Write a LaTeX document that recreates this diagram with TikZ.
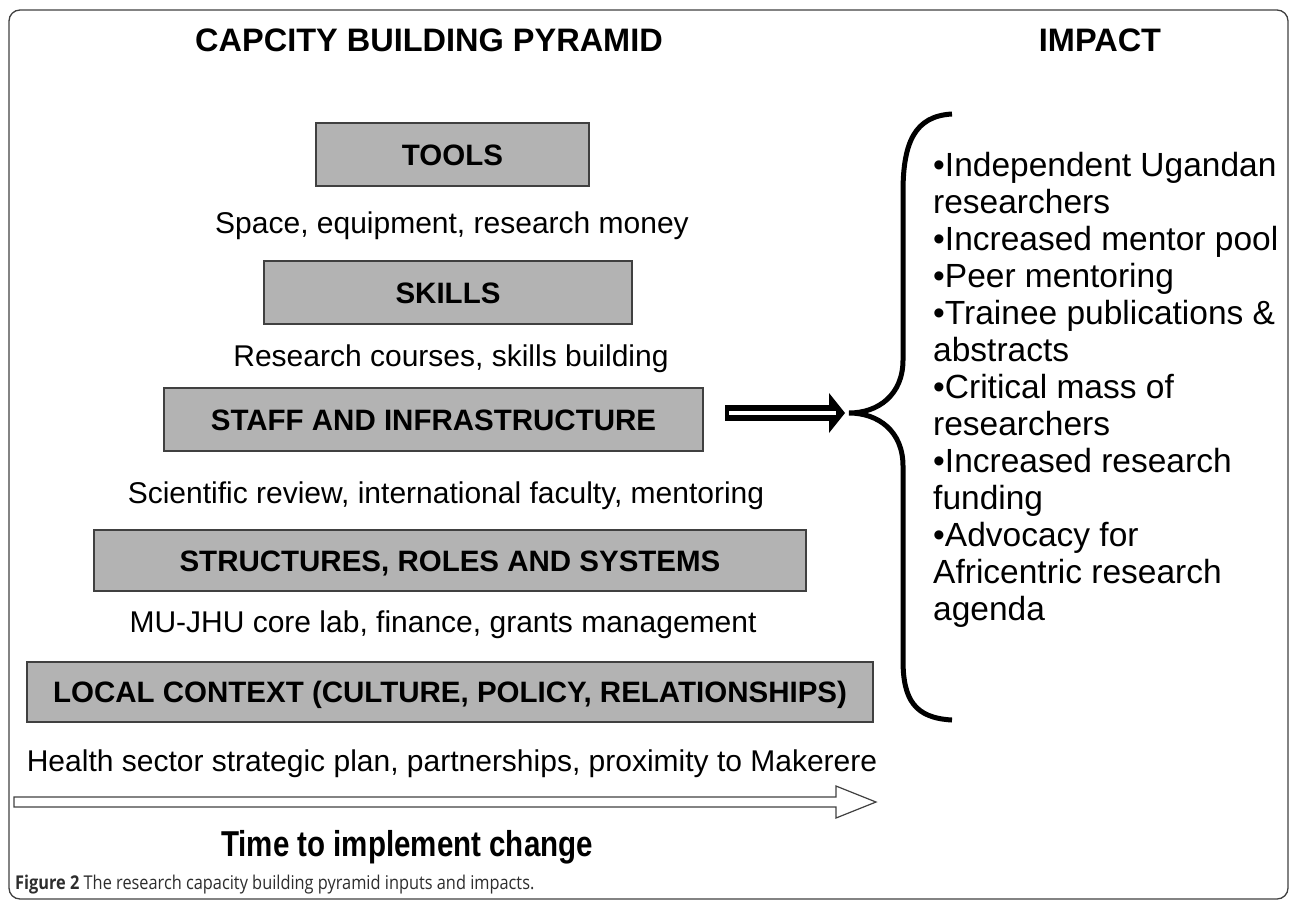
\documentclass[tikz,border=0pt]{standalone}
\usepackage{fontspec}
\setmainfont{Liberation Sans}
\newfontfamily\narrowfont[FakeStretch=0.82]{Liberation Sans}
\newfontfamily\capfont[FakeStretch=0.86]{Open Sans}
\usetikzlibrary{calc}
\definecolor{boxgray}{RGB}{179,179,179}
\definecolor{edgegray}{RGB}{64,64,64}
\definecolor{captext}{RGB}{45,45,45}
\begin{document}
\begin{tikzpicture}[x=1pt,y=-1pt,
  layerbox/.style={draw=edgegray, fill=boxgray, line width=1.3pt, inner sep=0pt,
    text height=21pt, text depth=0pt, font=\bfseries\fontsize{29.5}{35}\selectfont},
  desc/.style={anchor=base, inner sep=0pt, font=\fontsize{30}{36}\selectfont},
  heading/.style={anchor=base, inner sep=0pt, font=\bfseries\fontsize{32.5}{38}\selectfont},
  impitem/.style={anchor=base west, inner sep=0pt, font=\fontsize{33.5}{38}\selectfont},
]
\useasboundingbox (0,0) rectangle (1290,902);
\draw[edgegray, line width=1.3pt, rounded corners=11pt] (9,10) rectangle (1288,899);

% headings
\node[heading] (title) at (429,51) {CAPCITY BUILDING PYRAMID};
\node[heading] (impact) at (1100,51) {IMPACT};

% pyramid
\node[layerbox, minimum width=273pt, minimum height=63pt] (tools) at (452.5,154.5) {TOOLS};
\node[desc] (d1) at (452,233) {Space, equipment, research money};
\node[layerbox, minimum width=368pt, minimum height=63pt] (skills) at (448,292.5) {SKILLS};
\node[desc] (d2) at (451,366) {Research courses, skills building};
\node[layerbox, minimum width=539pt, minimum height=63pt] (staff) at (433.5,419.5) {STAFF AND INFRASTRUCTURE};
\node[desc] (d3) at (446,503) {Scientific review, international faculty, mentoring};
\node[layerbox, minimum width=712pt, minimum height=61pt] (struct) at (450,560.5) {STRUCTURES, ROLES AND SYSTEMS};
\node[desc] (d4) at (443,632) {MU-JHU core lab, finance, grants management};
\node[layerbox, minimum width=846pt, minimum height=60pt] (local) at (450,692) {LOCAL CONTEXT (CULTURE, POLICY, RELATIONSHIPS)};
\node[desc] (d5) at (452,771) {Health sector strategic plan, partnerships, proximity to Makerere};

% time arrow (open block arrow)
\coordinate (ts) at (14,802);
\coordinate (te) at (876,802);
\draw[edgegray, line width=1.2pt, line join=miter]
  ($(ts)+(0,-5)$) -- ($(te)+(-40,-5)$) -- ($(te)+(-40,-16)$) -- (te)
  -- ($(te)+(-40,16)$) -- ($(te)+(-40,5)$) -- ($(ts)+(0,5)$) -- cycle;
\node[anchor=base, inner sep=0pt, font=\narrowfont\bfseries\fontsize{36}{40}\selectfont] (time) at (407,856) {Time to implement change};

% caption
\node[anchor=base west, inner sep=0pt, text=captext, font=\capfont\fontsize{19}{22}\selectfont] (cap) at (15,889) {\textbf{Figure 2} The research capacity building pyramid inputs and impacts.};

% double arrow towards the impacts
\coordinate (as) at (725,413);
\coordinate (ae) at (845,413);
\fill[black] ($(as)+(0,-8)$) rectangle ($(ae)+(-13,8)$);
\fill[black] ($(ae)+(-16,-20)$) -- (ae) -- ($(ae)+(-16,20)$) -- cycle;
\fill[white] ($(as)+(4,-1.6)$) rectangle ($(ae)+(-9,1.6)$);

% brace
\coordinate (btip) at (849,413);
\draw[black, line width=5pt, line cap=butt]
  (952,114) .. controls (915,116) and (903,142) .. (903,192)
  -- (903,360) .. controls (903,395) and (878,413) .. (btip)
  .. controls (878,413) and (903,431) .. (903,466)
  -- (903,660) .. controls (903,700) and (915,718) .. (952,720);

% impact list
\foreach \t [count=\i from 0] in {%
  {\textbullet Independent Ugandan}, researchers, {\textbullet Increased mentor pool},
  {\textbullet Peer mentoring}, {\textbullet Trainee publications \&}, abstracts,
  {\textbullet Critical mass of}, researchers, {\textbullet Increased research}, funding,
  {\textbullet Advocacy for}, {Africentric research}, agenda}
  \node[impitem] (imp\i) at (933,{176+37*\i}) {\t};
\end{tikzpicture}
\end{document}
